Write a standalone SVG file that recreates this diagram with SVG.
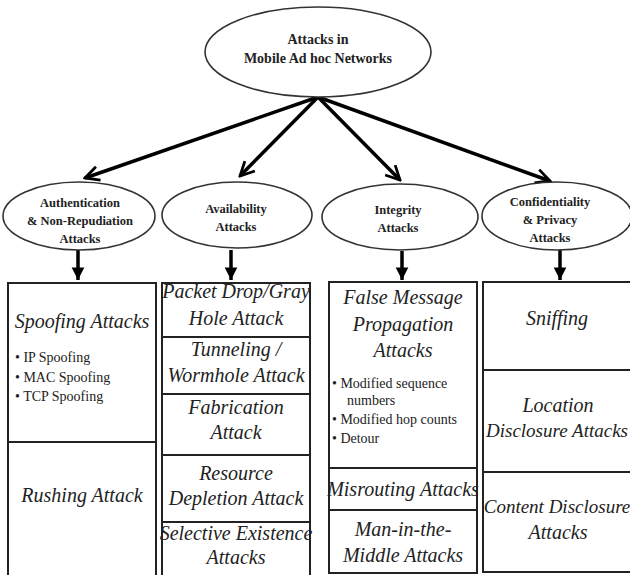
<svg xmlns="http://www.w3.org/2000/svg" width="630" height="575" viewBox="0 0 630 575">
<style>
.ell{fill:#fff;stroke:#333;stroke-width:1.6}
.box{fill:#fff;stroke:#222;stroke-width:2}
.hd{font-family:"Liberation Serif",serif;font-weight:bold;font-size:12.5px;fill:#222;text-anchor:middle}
.top{font-size:14px}
.it{font-family:"Liberation Serif",serif;font-style:italic;font-size:20px;fill:#222;text-anchor:middle}
.sm{font-size:19px}
.bl{font-family:"Liberation Serif",serif;font-size:14px;fill:#222}
.arr{stroke:#000;stroke-width:3.5;fill:none}
</style>
<defs>
<marker id="ah" viewBox="0 0 10 10" refX="9" refY="5" markerWidth="5" markerHeight="5" orient="auto" markerUnits="strokeWidth">
<path d="M1,1 L9,5 L1,9" fill="none" stroke="#000" stroke-width="1.6"/>
</marker>
<marker id="ad" viewBox="0 0 10 10" refX="9" refY="5" markerWidth="4.5" markerHeight="4.5" orient="auto" markerUnits="strokeWidth">
<path d="M1,1 L9,5 L1,9 Z" fill="#000"/>
</marker>
</defs>
<rect width="630" height="575" fill="#fff"/>
<g id="connectors">
<line class="arr" x1="318" y1="97" x2="85" y2="178" marker-end="url(#ah)"/>
<line class="arr" x1="318" y1="97" x2="240" y2="176" marker-end="url(#ah)"/>
<line class="arr" x1="318" y1="97" x2="400" y2="180" marker-end="url(#ah)"/>
<line class="arr" x1="318" y1="97" x2="550" y2="181" marker-end="url(#ah)"/>
<line class="arr" x1="78" y1="250" x2="78" y2="280" marker-end="url(#ad)"/>
<line class="arr" x1="231" y1="250" x2="231" y2="280" marker-end="url(#ad)"/>
<line class="arr" x1="402" y1="251" x2="402" y2="280" marker-end="url(#ad)"/>
<line class="arr" x1="560" y1="250" x2="560" y2="280" marker-end="url(#ad)"/>
</g>
<g id="root">
<ellipse class="ell" cx="318" cy="52" rx="113" ry="45"/>
<text class="hd top" x="318" y="44">Attacks in</text>
<text class="hd top" x="318" y="63">Mobile Ad hoc Networks</text>
</g>
<g id="auth">
<ellipse class="ell" cx="79" cy="216" rx="76" ry="34"/>
<text class="hd" x="80" y="207">Authentication</text>
<text class="hd" x="80" y="225">&amp; Non-Repudiation</text>
<text class="hd" x="80" y="243">Attacks</text>
</g>
<g id="avail">
<ellipse class="ell" cx="237" cy="215" rx="75" ry="33"/>
<text class="hd" x="236" y="213">Availability</text>
<text class="hd" x="236" y="231">Attacks</text>
</g>
<g id="integ">
<ellipse class="ell" cx="400" cy="217" rx="78" ry="33"/>
<text class="hd" x="398" y="214">Integrity</text>
<text class="hd" x="398" y="232">Attacks</text>
</g>
<g id="conf">
<ellipse class="ell" cx="557" cy="216" rx="75" ry="34"/>
<text class="hd" x="550" y="206">Confidentiality</text>
<text class="hd" x="550" y="224">&amp; Privacy</text>
<text class="hd" x="550" y="242">Attacks</text>
</g>
<g id="col1">
<rect class="box" x="8" y="283" width="148" height="159"/>
<text class="it" x="82" y="328">Spoofing Attacks</text>
<text class="bl" x="15" y="362">• IP Spoofing</text>
<text class="bl" x="15" y="382">• MAC Spoofing</text>
<text class="bl" x="15" y="401">• TCP Spoofing</text>
<rect class="box" x="8" y="442" width="148" height="140"/>
<text class="it" x="82" y="502">Rushing Attack</text>
</g>
<g id="col2">
<rect class="box" x="162" y="283" width="148" height="54"/>
<text class="it" x="236" y="298">Packet Drop/Gray</text>
<text class="it" x="236" y="325">Hole Attack</text>
<rect class="box" x="162" y="337" width="148" height="57"/>
<text class="it" x="236" y="356">Tunneling /</text>
<text class="it" x="236" y="382">Wormhole Attack</text>
<rect class="box" x="162" y="394" width="148" height="61"/>
<text class="it" x="236" y="414">Fabrication</text>
<text class="it" x="236" y="439">Attack</text>
<rect class="box" x="162" y="455" width="148" height="67"/>
<text class="it" x="236" y="480">Resource</text>
<text class="it" x="236" y="505">Depletion Attack</text>
<rect class="box" x="162" y="522" width="148" height="60"/>
<text class="it" x="236" y="540">Selective Existence</text>
<text class="it" x="236" y="564">Attacks</text>
</g>
<g id="col3">
<rect class="box" x="329" y="282" width="148" height="186"/>
<text class="it" x="403" y="304">False Message</text>
<text class="it" x="403" y="331">Propagation</text>
<text class="it" x="403" y="357">Attacks</text>
<text class="bl" x="332" y="388">•  Modified  sequence</text>
<text class="bl" x="347" y="405">numbers</text>
<text class="bl" x="332" y="424">•  Modified hop counts</text>
<text class="bl" x="332" y="443">•  Detour</text>
<rect class="box" x="329" y="468" width="148" height="42"/>
<text class="it" x="403" y="496">Misrouting Attacks</text>
<rect class="box" x="329" y="510" width="148" height="63"/>
<text class="it" x="403" y="536">Man-in-the-</text>
<text class="it" x="403" y="562">Middle Attacks</text>
</g>
<g id="col4">
<rect class="box" x="483" y="282" width="160" height="88"/>
<text class="it" x="557" y="325">Sniffing</text>
<rect class="box" x="483" y="370" width="160" height="102"/>
<text class="it" x="558" y="412">Location</text>
<text class="it sm" x="557" y="437">Disclosure Attacks</text>
<rect class="box" x="483" y="472" width="160" height="100"/>
<text class="it sm" x="557" y="513">Content Disclosure</text>
<text class="it" x="558" y="539">Attacks</text>
</g>
</svg>
